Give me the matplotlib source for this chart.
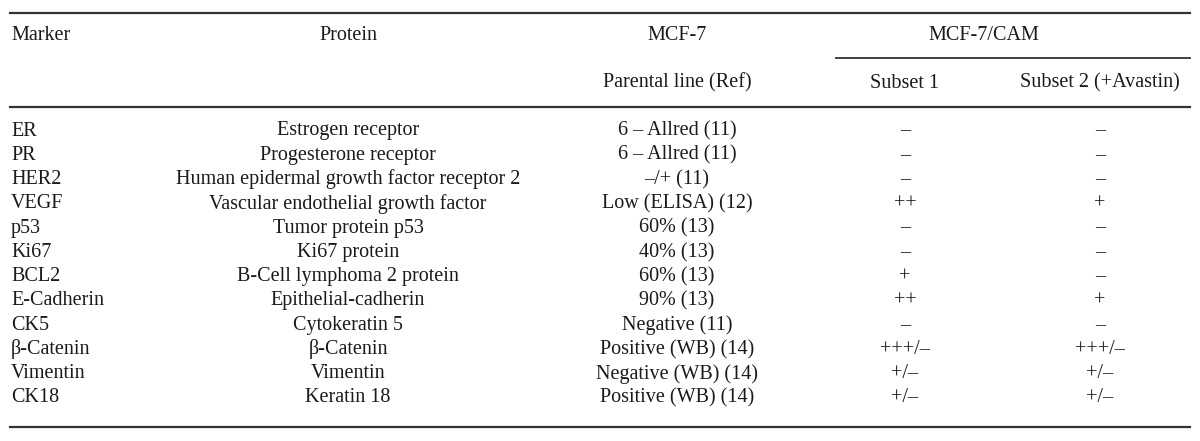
import matplotlib
matplotlib.use('Agg')
from matplotlib import pyplot as plt

markers = ['ER', 'PR', 'HER2', 'VEGF', 'p53', 'Ki67', 'BCL2', 'E-Cadherin',
           'CK5', 'β-Catenin', 'Vimentin', 'CK18']
proteins = ['Estrogen receptor', 'Progesterone receptor',
            'Human epidermal growth factor receptor 2',
            'Vascular endothelial growth factor', 'Tumor protein p53',
            'Ki67 protein', 'B-Cell lymphoma 2 protein', 'Epithelial-cadherin',
            'Cytokeratin 5', 'β-Catenin', 'Vimentin', 'Keratin 18']
parental = ['6 – Allred (11)', '6 – Allred (11)', '–/+ (11)', 'Low (ELISA) (12)',
            '60% (13)', '40% (13)', '60% (13)', '90% (13)', 'Negative (11)',
            'Positive (WB) (14)', 'Negative (WB) (14)', 'Positive (WB) (14)']
subset1 = ['–', '–', '–', '++', '–', '–', '+', '++', '–', '+++/–', '+/–', '+/–']
subset2 = ['–', '–', '–', '+', '–', '–', '–', '+', '–', '+++/–', '+/–', '+/–']

plt.rcParams['font.family'] = ['Liberation Serif', 'DejaVu Serif']

fig = plt.figure(figsize=(12, 4.41), dpi=100)
ax = fig.add_axes([0, 0, 1, 1])
ax.set_xlim(0, 1200)
ax.set_ylim(441, 0)
ax.axis('off')

fs = 14.5
col = '#1a1a1a'
lc = '#333333'

x_mark, x_prot, x_par, x_s1, x_s2 = 11, 348, 677, 905, 1100

# rules
ax.plot([10, 1190], [13, 13], color=lc, lw=1.6)
ax.plot([836, 1190], [58, 58], color=lc, lw=1.3)
ax.plot([10, 1190], [107, 107], color=lc, lw=1.6)
ax.plot([10, 1190], [427, 427], color=lc, lw=1.6)

# header
ax.text(x_mark, 36, 'Marker', fontsize=fs, color=col, va='center', ha='left')
ax.text(x_prot, 36, 'Protein', fontsize=fs, color=col, va='center', ha='center')
ax.text(x_par, 36, 'MCF-7', fontsize=fs, color=col, va='center', ha='center')
ax.text(984, 36, 'MCF-7/CAM', fontsize=fs, color=col, va='center', ha='center')
ax.text(x_par, 83, 'Parental line (Ref)', fontsize=fs, color=col, va='center', ha='center')
ax.text(x_s1, 83, 'Subset 1', fontsize=fs, color=col, va='center', ha='center')
ax.text(x_s2, 83, 'Subset 2 (+Avastin)', fontsize=fs, color=col, va='center', ha='center')

y0 = 131
dy = (398 - 131) / 11
for i in range(len(markers)):
    y = y0 + i * dy
    ax.text(x_mark, y, markers[i], fontsize=fs, color=col, va='center', ha='left')
    ax.text(x_prot, y, proteins[i], fontsize=fs, color=col, va='center', ha='center')
    ax.text(x_par, y, parental[i], fontsize=fs, color=col, va='center', ha='center')
    ax.text(x_s1, y, subset1[i], fontsize=fs, color=col, va='center', ha='center')
    ax.text(x_s2, y, subset2[i], fontsize=fs, color=col, va='center', ha='center')

fig.savefig('out.png', dpi=100)
